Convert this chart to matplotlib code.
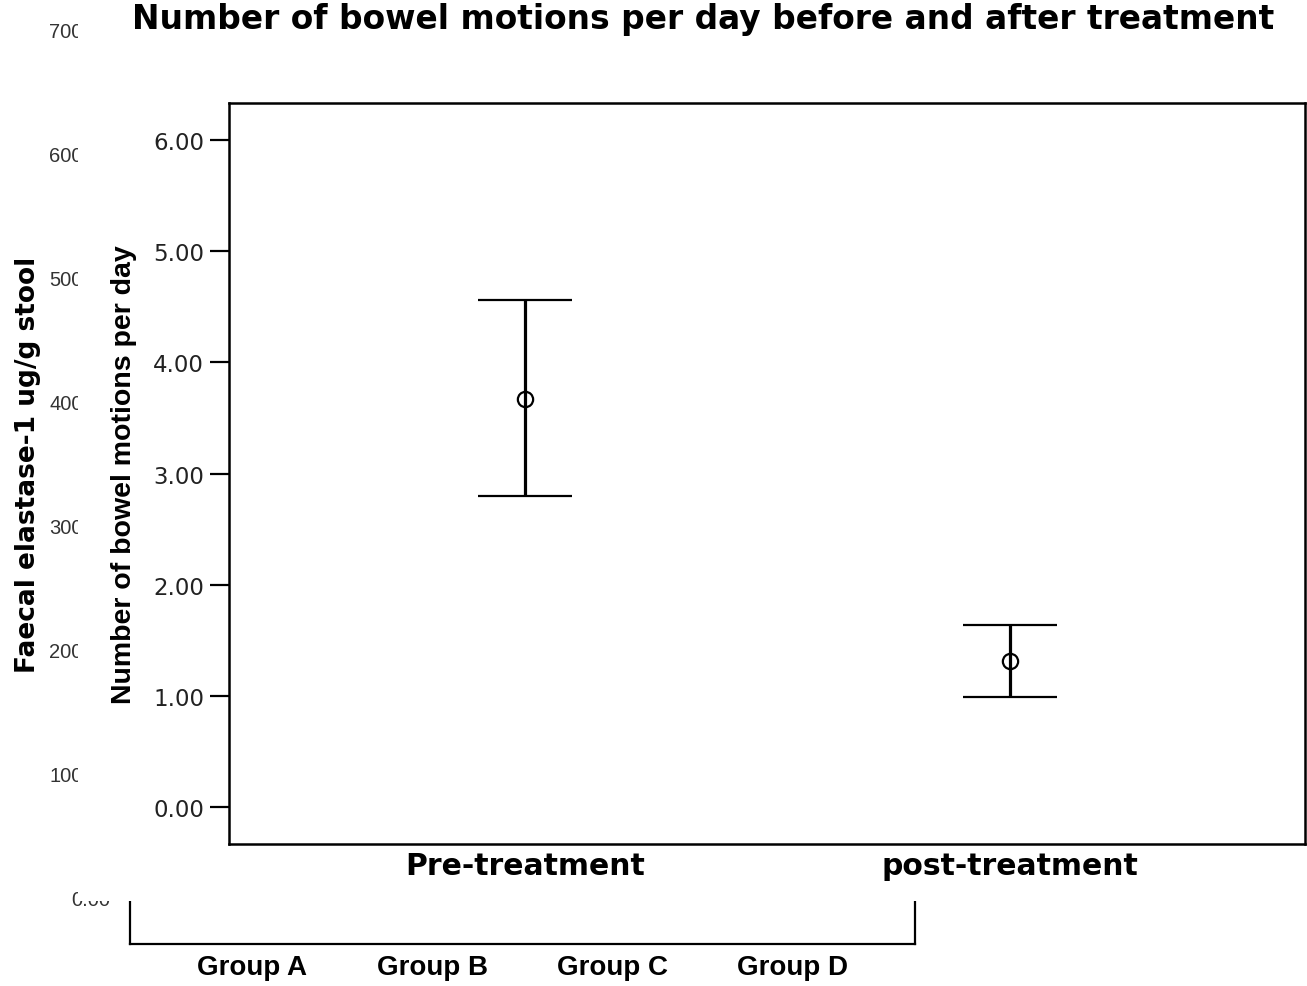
import matplotlib
matplotlib.use("Agg")
import matplotlib.pyplot as plt
from matplotlib.patches import Rectangle

# ---- data ----
categories = ["Pre-treatment", "post-treatment"]
means = [3.67, 1.31]
upper = [4.56, 1.64]
lower = [2.80, 0.99]
y_ticks = [0.0, 1.0, 2.0, 3.0, 4.0, 5.0, 6.0]

bg_groups = ["Group A", "Group B", "Group C", "Group D"]
bg_ticks = [0, 100, 200, 300, 400, 500, 600, 700]

W, H = 1307, 987
fig = plt.figure(figsize=(W / 100, H / 100), dpi=100)
fig.patch.set_facecolor("white")

def rect(l, t, r, b):
    return [l / W, 1 - b / H, (r - l) / W, (b - t) / H]

# ---- background (partially hidden) chart ----
axb = fig.add_axes(rect(130, 16, 915, 945), zorder=0)
axb.set_xlim(-0.677, 3.677)
axb.set_ylim(-37.5, 712)
axb.set_xticks(range(len(bg_groups)))
axb.set_xticklabels(bg_groups, fontfamily="Liberation Sans", fontweight="bold", fontsize=20)
axb.set_yticks(bg_ticks)
axb.set_yticklabels(["%.2f" % v for v in bg_ticks], fontfamily="Liberation Sans", fontsize=14.5, color="#333333")
axb.tick_params(axis="x", length=0, pad=7)
axb.tick_params(axis="y", length=6, width=1, pad=8, color="#888888")
for s in ["left", "bottom", "right"]:
    axb.spines[s].set_linewidth(1.6)
axb.spines["top"].set_visible(False)
fig.text(28 / W, 1 - 465 / H, "Faecal elastase-1 ug/g stool", rotation=90,
         ha="center", va="center", fontfamily="DejaVu Sans", fontweight="bold",
         fontsize=19, zorder=0)

# ---- white overlay covering the background chart ----
fig.add_artist(Rectangle((78 / W, 1 - 902 / H), 1 - 78 / W, 902 / H,
                         transform=fig.transFigure, facecolor="white",
                         edgecolor="none", zorder=1))

# ---- foreground chart ----
ax = fig.add_axes(rect(229, 104, 1305, 845), zorder=2)
ax.set_facecolor("white")
x = list(range(len(categories)))
yerr = [[m - l for m, l in zip(means, lower)], [u - m for m, u in zip(means, upper)]]
ax.errorbar(x, means, yerr=yerr, fmt="o", color="black", ecolor="black",
            elinewidth=2.3, capsize=34, capthick=2.3, markersize=11,
            markerfacecolor="none", markeredgecolor="black", markeredgewidth=1.6)
ax.set_xlim(-0.610, 1.608)
ax.set_ylim(-0.333, 6.333)
ax.set_xticks(x)
ax.set_xticklabels(categories, fontfamily="DejaVu Sans", fontweight="bold", fontsize=21.5)
ax.set_yticks(y_ticks)
ax.set_yticklabels(["%.2f" % v for v in y_ticks], fontfamily="DejaVu Sans", fontsize=16.5, color="#222222")
ax.tick_params(axis="x", length=0, pad=5)
ax.tick_params(axis="y", length=14, width=1.6, pad=4)
for s in ax.spines.values():
    s.set_linewidth(1.8)

fig.text(124 / W, 1 - 475 / H, "Number of bowel motions per day", rotation=90,
         ha="center", va="center", fontfamily="Liberation Sans", fontweight="bold",
         fontsize=20.5, zorder=3)
fig.text(703 / W, 1 - 20 / H, "Number of bowel motions per day before and after treatment",
         ha="center", va="center", fontfamily="DejaVu Sans", fontweight="bold",
         fontsize=23.7, zorder=3)

fig.savefig("out.png", dpi=100)
